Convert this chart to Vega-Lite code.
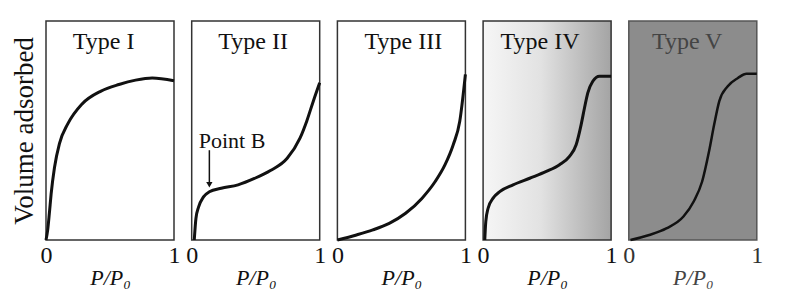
{
  "$schema": "https://vega.github.io/schema/vega-lite/v6.json",
  "background": "white",
  "padding": {"left": 9, "top": 20, "right": 5, "bottom": 5},
  "bounds": "flush",
  "spacing": 17.7,
  "datasets": {
    "labels": [
      {"type": "I", "label": "Type I"},
      {"type": "II", "label": "Type II"},
      {"type": "III", "label": "Type III"},
      {"type": "IV", "label": "Type IV"},
      {"type": "V", "label": "Type V"},
      {"type": "B", "label": "Point B"}
    ],
    "curves": [
      {"type": "I", "x": 0.0, "y": 0.0},
      {"type": "I", "x": 0.013, "y": 0.045},
      {"type": "I", "x": 0.026, "y": 0.12},
      {"type": "I", "x": 0.04, "y": 0.21},
      {"type": "I", "x": 0.066, "y": 0.33},
      {"type": "I", "x": 0.105, "y": 0.44},
      {"type": "I", "x": 0.17, "y": 0.53},
      {"type": "I", "x": 0.28, "y": 0.62},
      {"type": "I", "x": 0.43, "y": 0.68},
      {"type": "I", "x": 0.57, "y": 0.71},
      {"type": "I", "x": 0.7, "y": 0.73},
      {"type": "I", "x": 0.83, "y": 0.74},
      {"type": "I", "x": 1.0, "y": 0.727},
      {"type": "II", "x": 0.02, "y": 0.0},
      {"type": "II", "x": 0.033, "y": 0.098},
      {"type": "II", "x": 0.054, "y": 0.151},
      {"type": "II", "x": 0.092, "y": 0.197},
      {"type": "II", "x": 0.138, "y": 0.22},
      {"type": "II", "x": 0.231, "y": 0.236},
      {"type": "II", "x": 0.362, "y": 0.252},
      {"type": "II", "x": 0.49, "y": 0.281},
      {"type": "II", "x": 0.615, "y": 0.317},
      {"type": "II", "x": 0.746, "y": 0.373},
      {"type": "II", "x": 0.846, "y": 0.465},
      {"type": "II", "x": 0.9, "y": 0.545},
      {"type": "II", "x": 0.95, "y": 0.634},
      {"type": "II", "x": 1.0, "y": 0.718},
      {"type": "III", "x": 0.0, "y": 0.0},
      {"type": "III", "x": 0.149, "y": 0.023},
      {"type": "III", "x": 0.277, "y": 0.046},
      {"type": "III", "x": 0.405, "y": 0.076},
      {"type": "III", "x": 0.533, "y": 0.122},
      {"type": "III", "x": 0.66, "y": 0.19},
      {"type": "III", "x": 0.764, "y": 0.267},
      {"type": "III", "x": 0.841, "y": 0.344},
      {"type": "III", "x": 0.905, "y": 0.435},
      {"type": "III", "x": 0.956, "y": 0.542},
      {"type": "III", "x": 1.0, "y": 0.756},
      {"type": "IV", "x": 0.013, "y": 0.0},
      {"type": "IV", "x": 0.021, "y": 0.084},
      {"type": "IV", "x": 0.039, "y": 0.145},
      {"type": "IV", "x": 0.078, "y": 0.191},
      {"type": "IV", "x": 0.13, "y": 0.221},
      {"type": "IV", "x": 0.234, "y": 0.252},
      {"type": "IV", "x": 0.364, "y": 0.282},
      {"type": "IV", "x": 0.494, "y": 0.313},
      {"type": "IV", "x": 0.597, "y": 0.344},
      {"type": "IV", "x": 0.675, "y": 0.382},
      {"type": "IV", "x": 0.727, "y": 0.435},
      {"type": "IV", "x": 0.766, "y": 0.527},
      {"type": "IV", "x": 0.792, "y": 0.603},
      {"type": "IV", "x": 0.818, "y": 0.672},
      {"type": "IV", "x": 0.857, "y": 0.725},
      {"type": "IV", "x": 0.909, "y": 0.748},
      {"type": "IV", "x": 1.0, "y": 0.748},
      {"type": "V", "x": 0.013, "y": 0.0},
      {"type": "V", "x": 0.16, "y": 0.023},
      {"type": "V", "x": 0.293, "y": 0.053},
      {"type": "V", "x": 0.427, "y": 0.107},
      {"type": "V", "x": 0.507, "y": 0.176},
      {"type": "V", "x": 0.573, "y": 0.267},
      {"type": "V", "x": 0.627, "y": 0.405},
      {"type": "V", "x": 0.667, "y": 0.527},
      {"type": "V", "x": 0.707, "y": 0.634},
      {"type": "V", "x": 0.773, "y": 0.702},
      {"type": "V", "x": 0.853, "y": 0.74},
      {"type": "V", "x": 0.92, "y": 0.759},
      {"type": "V", "x": 1.0, "y": 0.759}
    ]
  },
  "hconcat": [
    {
      "width": 128, "height": 219,
      "layer": [
        {"data": {"name": "curves"}, "transform": [{"filter": "datum.type === 'I'"}],
         "mark": {"type": "line", "interpolate": "monotone", "color": "#111", "strokeWidth": 3},
         "encoding": {
           "x": {"field": "x", "type": "quantitative", "scale": {"domain": [0, 1]}, "axis": {"values": [0, 1], "format": "d", "title": "P/P₀", "labelFlush": false}},
           "y": {"field": "y", "type": "quantitative", "scale": {"domain": [0, 1]}, "axis": {"title": "Volume adsorbed", "labels": false}}
         }},
        {"data": {"name": "labels"}, "transform": [{"filter": "datum.type === 'I'"}],
         "mark": {"type": "text", "baseline": "alphabetic", "font": "Liberation Serif", "fontSize": 24, "color": "#111"},
         "encoding": {"text": {"field": "label", "type": "nominal"}, "x": {"datum": 0.45, "type": "quantitative"}, "y": {"datum": 0.873, "type": "quantitative"}}}
      ]
    },
    {
      "width": 128, "height": 219,
      "layer": [
        {"data": {"name": "curves"}, "transform": [{"filter": "datum.type === 'II'"}],
         "mark": {"type": "line", "interpolate": "monotone", "color": "#111", "strokeWidth": 3},
         "encoding": {
           "x": {"field": "x", "type": "quantitative", "scale": {"domain": [0, 1]}, "axis": {"values": [0, 1], "format": "d", "title": "P/P₀", "labelFlush": false}},
           "y": {"field": "y", "type": "quantitative", "scale": {"domain": [0, 1]}, "axis": null}
         }},
        {"data": {"name": "labels"}, "transform": [{"filter": "datum.type === 'II'"}],
         "mark": {"type": "text", "baseline": "alphabetic", "font": "Liberation Serif", "fontSize": 24, "color": "#111"},
         "encoding": {"text": {"field": "label", "type": "nominal"}, "x": {"datum": 0.48, "type": "quantitative"}, "y": {"datum": 0.873, "type": "quantitative"}}},
        {"data": {"name": "labels"}, "transform": [{"filter": "datum.type === 'B'"}],
         "mark": {"type": "text", "align": "left", "baseline": "alphabetic", "font": "Liberation Serif", "fontSize": 22, "color": "#111"},
         "encoding": {"text": {"field": "label", "type": "nominal"}, "x": {"datum": 0.055, "type": "quantitative"}, "y": {"datum": 0.42, "type": "quantitative"}}},
        {"data": {"name": "labels"}, "transform": [{"filter": "datum.type === 'B'"}],
         "mark": {"type": "rule", "color": "#111", "strokeWidth": 1.5},
         "encoding": {"x": {"datum": 0.138, "type": "quantitative"}, "y": {"datum": 0.41, "type": "quantitative"}, "y2": {"datum": 0.26}}},
        {"data": {"name": "labels"}, "transform": [{"filter": "datum.type === 'B'"}],
         "mark": {"type": "point", "shape": "triangle-down", "filled": true, "color": "#111", "size": 40, "opacity": 1},
         "encoding": {"x": {"datum": 0.138, "type": "quantitative"}, "y": {"datum": 0.252, "type": "quantitative"}}}
      ]
    },
    {
      "width": 128, "height": 219,
      "layer": [
        {"data": {"name": "curves"}, "transform": [{"filter": "datum.type === 'III'"}],
         "mark": {"type": "line", "interpolate": "monotone", "color": "#111", "strokeWidth": 3},
         "encoding": {
           "x": {"field": "x", "type": "quantitative", "scale": {"domain": [0, 1]}, "axis": {"values": [0, 1], "format": "d", "title": "P/P₀", "labelFlush": false}},
           "y": {"field": "y", "type": "quantitative", "scale": {"domain": [0, 1]}, "axis": null}
         }},
        {"data": {"name": "labels"}, "transform": [{"filter": "datum.type === 'III'"}],
         "mark": {"type": "text", "baseline": "alphabetic", "font": "Liberation Serif", "fontSize": 24, "color": "#111"},
         "encoding": {"text": {"field": "label", "type": "nominal"}, "x": {"datum": 0.515, "type": "quantitative"}, "y": {"datum": 0.873, "type": "quantitative"}}}
      ]
    },
    {
      "width": 128, "height": 219,
      "view": {"fill": {"gradient": "linear", "x1": 0, "x2": 1, "y1": 0, "y2": 0, "stops": [{"offset": 0, "color": "#f6f6f6"}, {"offset": 0.45, "color": "#e2e2e2"}, {"offset": 1, "color": "#a4a4a4"}]}},
      "layer": [
        {"data": {"name": "curves"}, "transform": [{"filter": "datum.type === 'IV'"}],
         "mark": {"type": "line", "interpolate": "monotone", "color": "#111", "strokeWidth": 3},
         "encoding": {
           "x": {"field": "x", "type": "quantitative", "scale": {"domain": [0, 1]}, "axis": {"values": [0, 1], "format": "d", "title": "P/P₀", "labelFlush": false}},
           "y": {"field": "y", "type": "quantitative", "scale": {"domain": [0, 1]}, "axis": null}
         }},
        {"data": {"name": "labels"}, "transform": [{"filter": "datum.type === 'IV'"}],
         "mark": {"type": "text", "baseline": "alphabetic", "font": "Liberation Serif", "fontSize": 24, "color": "#111"},
         "encoding": {"text": {"field": "label", "type": "nominal"}, "x": {"datum": 0.445, "type": "quantitative"}, "y": {"datum": 0.873, "type": "quantitative"}}}
      ]
    },
    {
      "width": 128, "height": 219,
      "view": {"fill": "#8c8c8c", "stroke": "#555"},
      "layer": [
        {"data": {"name": "curves"}, "transform": [{"filter": "datum.type === 'V'"}],
         "mark": {"type": "line", "interpolate": "monotone", "color": "#111", "strokeWidth": 2.5},
         "encoding": {
           "x": {"field": "x", "type": "quantitative", "scale": {"domain": [0, 1]}, "axis": {"values": [0, 1], "format": "d", "title": "P/P₀", "labelFlush": false, "labelColor": "#333", "titleColor": "#444"}},
           "y": {"field": "y", "type": "quantitative", "scale": {"domain": [0, 1]}, "axis": null}
         }},
        {"data": {"name": "labels"}, "transform": [{"filter": "datum.type === 'V'"}],
         "mark": {"type": "text", "baseline": "alphabetic", "font": "Liberation Serif", "fontSize": 24, "color": "#444"},
         "encoding": {"text": {"field": "label", "type": "nominal"}, "x": {"datum": 0.456, "type": "quantitative"}, "y": {"datum": 0.873, "type": "quantitative"}}}
      ]
    }
  ],
  "config": {
    "view": {"stroke": "#333", "strokeWidth": 1.5},
    "axisX": {
      "domain": false, "ticks": false, "grid": false,
      "labelFont": "Liberation Serif", "labelFontSize": 24, "labelColor": "#111", "labelPadding": 3,
      "titleFont": "Liberation Serif", "titleFontStyle": "italic", "titleFontWeight": "normal", "titleFontSize": 22, "titleColor": "#111", "titlePadding": 0
    },
    "axisY": {
      "domain": false, "ticks": false, "grid": false,
      "titleFont": "Liberation Serif", "titleFontWeight": "normal", "titleFontSize": 27, "titleColor": "#111", "titlePadding": 8
    }
  }
}
